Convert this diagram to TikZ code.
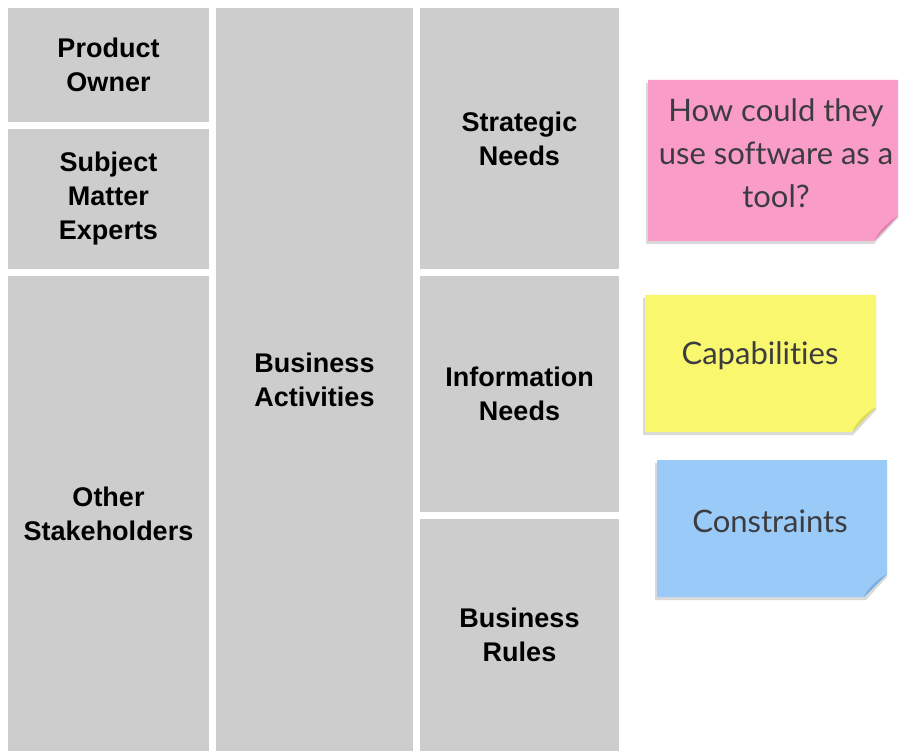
\documentclass[tikz,border=0pt]{standalone}
\usepackage{fontspec}
\setmainfont{Liberation Sans}
\newfontfamily\handfont[Ligatures=NoCommon]{Lato}
\definecolor{boxgray}{HTML}{CDCDCD}
\definecolor{pinknote}{HTML}{F99CC8}
\definecolor{pinkflap}{HTML}{E082AE}
\definecolor{yellownote}{HTML}{F9F76E}
\definecolor{yellowflap}{HTML}{DCD955}
\definecolor{bluenote}{HTML}{9ACBF8}
\definecolor{blueflap}{HTML}{7AAEDC}
\definecolor{notetext}{HTML}{3C3C40}
\begin{document}
\begin{tikzpicture}[x=1pt,y=-1pt,
  cell/.style={fill=boxgray, inner sep=0pt, outer sep=0pt, anchor=north west, align=center,
    font=\fontsize{27}{34}\selectfont\bfseries, text=black},
  notetxt/.style={align=center, text=notetext, font=\handfont\fontsize{31}{43}\selectfont, inner sep=0pt}]
\useasboundingbox (0,0) rectangle (908,751);
\fill[white] (0,0) rectangle (908,751);
% column 1
\node[cell, minimum width=201pt, minimum height=114pt] (po) at (8,8) {Product\\Owner};
\node[cell, minimum width=201pt, minimum height=140pt] (sme) at (8,129) {Subject\\Matter\\Experts};
\node[cell, minimum width=201pt, minimum height=475pt] (os) at (8,276) {Other\\Stakeholders};
% column 2
\node[cell, minimum width=197pt, minimum height=743pt] (ba) at (216,8) {Business\\Activities};
% column 3
\node[cell, minimum width=199pt, minimum height=261pt] (sn) at (420,8) {Strategic\\Needs};
\node[cell, minimum width=199pt, minimum height=236pt] (in) at (420,276) {Information\\Needs};
\node[cell, minimum width=199pt, minimum height=232pt] (br) at (420,519) {Business\\Rules};
% sticky notes
% pink
\fill[black, opacity=0.15] (646,83) -- (898,83) -- (898,218) -- (874,244) -- (646,244) -- cycle;
\fill[pinknote] (648,80) -- (898,80) -- (898,216) -- (874,241) -- (648,241) -- cycle;
\fill[pinkflap] (898,216) -- (874,241) .. controls (877,234) and (886,223) .. cycle;
\node[notetxt] (q) at (776,153) {How could they\\use software as a\\tool?};
% yellow
\fill[black, opacity=0.15] (643,298) -- (876,298) -- (876,410) -- (853,435) -- (643,435) -- cycle;
\fill[yellownote] (645,295) -- (876,295) -- (876,407) -- (852,432) -- (645,432) -- cycle;
\fill[yellowflap] (876,407) -- (852,432) .. controls (855,425) and (864,414) .. cycle;
\node[notetxt] (cap) at (760,356) {Capabilities};
% blue
\fill[black, opacity=0.15] (655,463) -- (887,463) -- (887,577) -- (866,600) -- (655,600) -- cycle;
\fill[bluenote] (657,460) -- (887,460) -- (887,574) -- (864,597) -- (657,597) -- cycle;
\fill[blueflap] (887,574) -- (864,597) .. controls (867,590) and (876,580) .. cycle;
\node[notetxt] (con) at (770,521) {Constraints};
\end{tikzpicture}
\end{document}
